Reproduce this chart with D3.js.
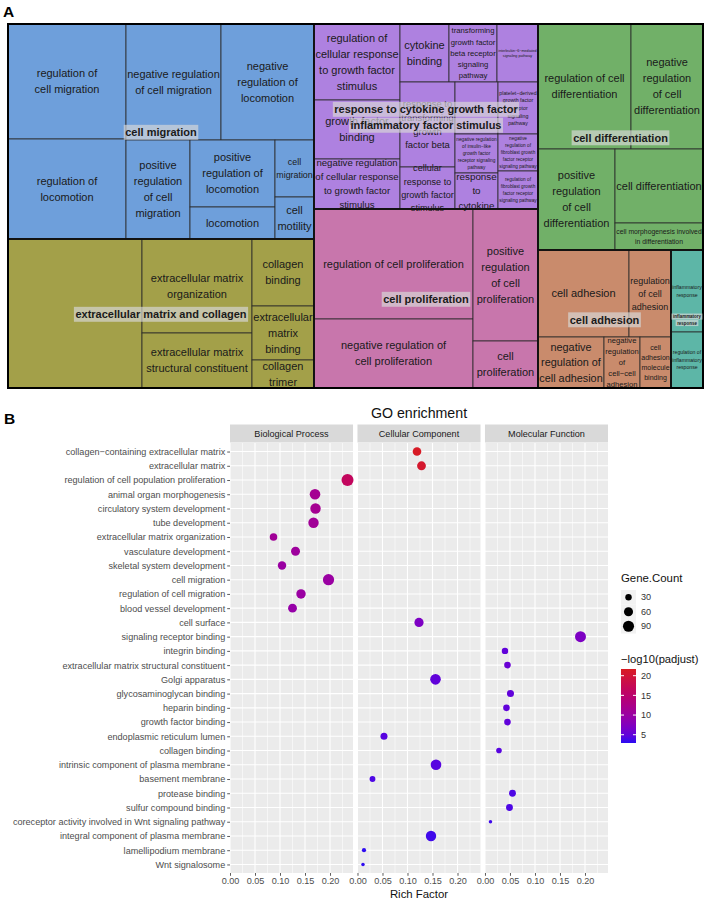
<!DOCTYPE html>
<html>
<head>
<meta charset="utf-8">
<script src="https://cdn.jsdelivr.net/npm/d3@7"></script>
<style>
  body { margin: 0; background: #fff; }
  svg { display: block; font-family: "Liberation Sans", Arial, Helvetica, sans-serif; }
</style>
</head>
<body>
<svg id="fig" width="713" height="912"></svg>
<script>
// ---------- panel A: REVIGO treemap ----------
const groupNames = [
  "cell migration",
  "extracellular matrix and collagen",
  "response to cytokine growth factor\ninflammatory factor stimulus",
  "cell proliferation",
  "cell differentiation",
  "cell adhesion",
  "inflammatory\nresponse"
];
const groupColors = ["#6e9fdb", "#a3a049", "#ae81e0", "#c876ac", "#71b068", "#c98b6c", "#5db6a7"];

const termLabels = [
  "regulation of\ncell migration", "regulation of\nlocomotion", "negative regulation\nof cell migration",
  "negative\nregulation of\nlocomotion", "positive\nregulation\nof cell\nmigration", "positive\nregulation of\nlocomotion",
  "locomotion", "cell\nmigration", "cell\nmotility",
  "", "extracellular matrix\norganization", "extracellular matrix\nstructural constituent",
  "collagen\nbinding", "extracellular\nmatrix\nbinding", "collagen\ntrimer",
  "regulation of\ncellular response\nto growth factor\nstimulus", "growth factor\nbinding",
  "negative regulation\nof cellular response\nto growth factor\nstimulus",
  "cytokine\nbinding", "transforming\ngrowth factor\nbeta receptor\nsignaling\npathway",
  "interleukin−6−mediated\nsignaling pathway",
  "response to\ntransforming\ngrowth\nfactor beta", "cellular\nresponse to\ngrowth factor\nstimulus", "",
  "negative regulation\nof insulin−like\ngrowth factor\nreceptor signaling\npathway", "response\nto\ncytokine",
  "platelet−derived\ngrowth factor\nreceptor\nsignaling\npathway",
  "negative\nregulation of\nfibroblast growth\nfactor receptor\nsignaling pathway",
  "regulation of\nfibroblast growth\nfactor receptor\nsignaling pathway",
  "regulation of cell proliferation", "negative regulation of\ncell proliferation",
  "positive\nregulation\nof cell\nproliferation", "cell\nproliferation",
  "regulation of cell\ndifferentiation", "negative\nregulation\nof cell\ndifferentiation",
  "positive\nregulation\nof cell\ndifferentiation", "cell differentiation",
  "cell morphogenesis involved\nin differentiation",
  "cell adhesion", "regulation\nof cell\nadhesion", "negative\nregulation of\ncell adhesion",
  "negative\nregulation\nof\ncell−cell\nadhesion", "cell\nadhesion\nmolecule\nbinding",
  "inflammatory\nresponse", "regulation of\ninflammatory\nresponse"
];
const termGroup = [
  0, 0, 0, 0, 0, 0, 0, 0, 0,
  1, 1, 1, 1, 1, 1,
  2, 2, 2, 2, 2, 2, 2, 2, 2, 2, 2, 2, 2, 2,
  3, 3, 3, 3,
  4, 4, 4, 4, 4,
  5, 5, 5, 5, 5,
  6, 6
];
const termSize = [
  13570, 11800, 11020, 10788, 6336, 5695, 2720, 2223, 1638,
  19966, 10340, 6050, 4154, 3348, 1736,
  6536, 5074, 4300, 2842, 2784, 2378, 4675, 2310, 2236, 1677, 1548, 2080, 1480, 1520,
  17490, 10971, 8580, 3055,
  11625, 9000, 7777, 6512, 2376,
  7917, 3654, 3366, 1836, 1581,
  2624, 1792
];

// tiling order: "h" = side by side, "v" = stacked; numbers are term indexes
const treeSplits = ["h",
  ["v",
    ["h", ["v", 0, 1], ["v", ["h", 2, 3], ["h", 4, ["v", 5, 6], ["v", 7, 8]]]],
    ["h", 9, ["v", 10, 11], ["v", 12, 13, 14]]],
  ["v",
    ["h", ["v", 15, 16, 17],
      ["v", ["h", 18, 19, 20], ["h", ["v", 21, 22], ["v", 23, 24, 25], ["v", 26, 27, 28]]]],
    ["h", ["v", 29, 30], ["v", 31, 32]]],
  ["v",
    ["v", ["h", 33, 34], ["h", 35, ["v", 36, 37]]],
    ["h", ["v", ["h", 38, 39], ["h", 40, 41, 42]], ["v", 43, 44]]]
];

// ---------- panel B: GO enrichment dot plot ----------
const ontologyPanels = ["Biological Process", "Cellular Component", "Molecular Function"];
const goTerms = [
  "collagen−containing extracellular matrix", "extracellular matrix", "regulation of cell population proliferation",
  "animal organ morphogenesis", "circulatory system development", "tube development",
  "extracellular matrix organization", "vasculature development", "skeletal system development",
  "cell migration", "regulation of cell migration", "blood vessel development", "cell surface",
  "signaling receptor binding", "integrin binding", "extracellular matrix structural constituent",
  "Golgi apparatus", "glycosaminoglycan binding", "heparin binding", "growth factor binding",
  "endoplasmic reticulum lumen", "collagen binding", "intrinsic component of plasma membrane",
  "basement membrane", "protease binding", "sulfur compound binding",
  "coreceptor activity involved in Wnt signaling pathway", "integral component of plasma membrane",
  "lamellipodium membrane", "Wnt signalosome"
];
const goOntology = [
  1, 1, 0, 0, 0, 0, 0, 0, 0, 0, 0, 0, 1, 2, 2, 2, 1, 2, 2, 2, 1, 2, 1, 1, 2, 2, 2, 1, 1, 1
];
const richFactor = [
  0.119, 0.128, 0.235, 0.170, 0.171, 0.167, 0.087, 0.131, 0.104, 0.197, 0.142, 0.125, 0.123,
  0.191, 0.040, 0.045, 0.156, 0.051, 0.043, 0.045, 0.053, 0.028, 0.157, 0.030, 0.055, 0.049,
  0.011, 0.147, 0.013, 0.011
];
const geneCount = [
  54, 57, 105, 82, 80, 79, 42, 59, 52, 92, 65, 57, 62,
  88, 30, 32, 82, 36, 32, 32, 36, 23, 82, 25, 34, 34,
  9, 79, 13, 9
];
const negLogPadj = [
  21.5, 20.8, 16.5, 11.5, 11.5, 11, 11, 10.5, 10, 10, 10, 9.5, 7,
  7, 5, 5.5, 5, 5, 5, 5, 4.5, 4.5, 4.5, 4, 4, 4,
  3.5, 3.5, 3, 3
];
const xTicks = [0, 0.05, 0.10, 0.15, 0.20];
const sizeLegend = [30, 60, 90];
const colorLegend = [5, 10, 15, 20];

const svg = d3.select("#fig");

// ===== A =====
svg.append("text").attr("x", 3).attr("y", 17).attr("font-size", 15.5).attr("font-weight", "bold").text("A");

const TM = { x: 8, y: 24, w: 695, h: 364 };

function buildNode(spec) {
  if (typeof spec === "number") return { term: spec, value: termSize[spec] };
  return { dir: spec[0], children: spec.slice(1).map(buildNode) };
}

const root = d3.hierarchy(buildNode(treeSplits)).sum((d) => d.value || 0);
d3.treemap()
  .size([TM.w, TM.h])
  .tile((node, x0, y0, x1, y1) =>
    (node.data.dir === "h" ? d3.treemapDice : d3.treemapSlice)(node, x0, y0, x1, y1))(root);

const tmG = svg.append("g").attr("transform", `translate(${TM.x},${TM.y})`);
const leaves = root.leaves();

tmG.selectAll(".cell")
  .data(leaves)
  .join("rect")
  .attr("class", "cell")
  .attr("x", (d) => d.x0)
  .attr("y", (d) => d.y0)
  .attr("width", (d) => d.x1 - d.x0)
  .attr("height", (d) => d.y1 - d.y0)
  .attr("fill", (d) => groupColors[termGroup[d.data.term]])
  .attr("stroke", "#2a2a2a")
  .attr("stroke-width", 0.8);

// measuring helper
const measure = svg.append("text").attr("visibility", "hidden");
function textWidth(str, size, weight) {
  measure.attr("font-size", size).attr("font-weight", weight || "normal").text(str);
  return measure.node().getComputedTextLength();
}

function drawLines(g, lines, cx, cy, fs, weight, withBox) {
  const lh = fs * 1.45;
  lines.forEach((line, i) => {
    const y = cy + (i - (lines.length - 1) / 2) * lh;
    if (withBox) {
      const tw = textWidth(line, fs, weight);
      g.append("rect")
        .attr("x", cx - tw / 2 - 1.5)
        .attr("y", y - fs * 0.68)
        .attr("width", tw + 3)
        .attr("height", fs * 1.36)
        .attr("fill", "rgba(215,215,215,0.68)");
    }
    g.append("text")
      .attr("x", cx)
      .attr("y", y)
      .attr("dy", "0.35em")
      .attr("text-anchor", "middle")
      .attr("font-size", fs)
      .attr("font-weight", weight || "normal")
      .attr("fill", "#1a1a1a")
      .text(line);
  });
}

const labelG = tmG.append("g");
leaves.forEach((d) => {
  const label = termLabels[d.data.term];
  if (!label) return;
  const lines = label.split("\n");
  const w = d.x1 - d.x0;
  const maxW = d3.max(lines, (l) => textWidth(l, 11));
  const fs = Math.min(11, (11 * (w - 2.5)) / maxW);
  drawLines(labelG, lines, (d.x0 + d.x1) / 2, (d.y0 + d.y1) / 2, fs);
});

// group outlines and labels
const byGroup = d3.group(leaves, (d) => termGroup[d.data.term]);
const groupBoxes = Array.from(byGroup, ([g, ls]) => ({
  g,
  x0: d3.min(ls, (d) => d.x0),
  y0: d3.min(ls, (d) => d.y0),
  x1: d3.max(ls, (d) => d.x1),
  y1: d3.max(ls, (d) => d.y1)
}));

tmG.selectAll(".grp")
  .data(groupBoxes)
  .join("rect")
  .attr("class", "grp")
  .attr("x", (d) => d.x0)
  .attr("y", (d) => d.y0)
  .attr("width", (d) => d.x1 - d.x0)
  .attr("height", (d) => d.y1 - d.y0)
  .attr("fill", "none")
  .attr("stroke", "#111")
  .attr("stroke-width", 1.6);

tmG.append("rect")
  .attr("width", TM.w)
  .attr("height", TM.h)
  .attr("fill", "none")
  .attr("stroke", "#000")
  .attr("stroke-width", 2);

groupBoxes.forEach((b) => {
  const lines = groupNames[b.g].split("\n");
  const maxW = d3.max(lines, (l) => textWidth(l, 11, "bold"));
  const fs = Math.min(11, (11 * (b.x1 - b.x0 - 4)) / maxW);
  drawLines(tmG, lines, (b.x0 + b.x1) / 2, (b.y0 + b.y1) / 2 + 0.8, fs, "bold", true);
});

// ===== B =====
svg.append("text").attr("x", 4).attr("y", 424).attr("font-size", 15.5).attr("font-weight", "bold").text("B");

const B_TOP = 443, B_BOTTOM = 873;
const AX_FS = 9.1;
const panelX = d3.scaleBand().domain(ontologyPanels).range([230, 608]).paddingInner(0.035);
const rfX = d3.scaleLinear().domain([0, 0.246]).range([0, panelX.bandwidth()]);
const termY = d3.scalePoint().domain(goTerms).range([B_TOP, B_BOTTOM]).padding(0.6);
const rScale = d3.scaleSqrt().domain([0, 100]).range([0, 5.85]);
const colorScale = d3.scaleLinear()
  .domain([2.9, 21.7])
  .range(["#2a0cf2", "#d81b22"])
  .interpolate(d3.interpolateLab)
  .clamp(true);

svg.append("text")
  .attr("x", 419)
  .attr("y", 418)
  .attr("text-anchor", "middle")
  .attr("font-size", 14.2)
  .attr("fill", "#111")
  .text("GO enrichment");

const minorTicks = [0.025, 0.075, 0.125, 0.175, 0.225];
const dots = goTerms.map((t, i) => ({
  term: t, panel: ontologyPanels[goOntology[i]], rf: richFactor[i], n: geneCount[i], p: negLogPadj[i]
}));

ontologyPanels.forEach((name) => {
  const g = svg.append("g").attr("transform", `translate(${panelX(name)},0)`);
  const bw = panelX.bandwidth();

  g.append("rect").attr("y", B_TOP).attr("width", bw).attr("height", B_BOTTOM - B_TOP).attr("fill", "#ebebeb");

  g.selectAll(".minor")
    .data(minorTicks)
    .join("line")
    .attr("x1", (d) => rfX(d))
    .attr("x2", (d) => rfX(d))
    .attr("y1", B_TOP)
    .attr("y2", B_BOTTOM)
    .attr("stroke", "#fff")
    .attr("stroke-width", 0.55);

  g.selectAll(".hgrid")
    .data(goTerms)
    .join("line")
    .attr("x1", 0)
    .attr("x2", bw)
    .attr("y1", (d) => termY(d))
    .attr("y2", (d) => termY(d))
    .attr("stroke", "#fff")
    .attr("stroke-width", 1.1);

  g.selectAll(".vgrid")
    .data(xTicks)
    .join("line")
    .attr("x1", (d) => rfX(d))
    .attr("x2", (d) => rfX(d))
    .attr("y1", B_TOP)
    .attr("y2", B_BOTTOM)
    .attr("stroke", "#fff")
    .attr("stroke-width", 1.1);

  g.append("rect").attr("y", 424.5).attr("width", bw).attr("height", 18).attr("fill", "#d9d9d9");
  g.append("text")
    .attr("x", bw / 2)
    .attr("y", 433.5)
    .attr("dy", "0.35em")
    .attr("text-anchor", "middle")
    .attr("font-size", AX_FS)
    .attr("fill", "#1a1a1a")
    .text(name);

  const ax = g.append("g")
    .attr("transform", `translate(0,${B_BOTTOM})`)
    .call(d3.axisBottom(rfX).tickValues(xTicks).tickFormat(d3.format(".2f")).tickSize(2.8).tickPadding(2));
  ax.select(".domain").remove();
  ax.selectAll("line").attr("stroke", "#333").attr("stroke-width", 0.8);
  ax.selectAll("text").attr("font-size", AX_FS).attr("fill", "#4d4d4d").attr("font-family", null);

  g.selectAll(".dot")
    .data(dots.filter((d) => d.panel === name))
    .join("circle")
    .attr("cx", (d) => rfX(d.rf))
    .attr("cy", (d) => termY(d.term))
    .attr("r", (d) => rScale(d.n))
    .attr("fill", (d) => colorScale(d.p));
});

const yAx = svg.append("g")
  .attr("transform", "translate(230,0)")
  .call(d3.axisLeft(termY).tickSize(2.8).tickPadding(2));
yAx.select(".domain").remove();
yAx.selectAll("line").attr("stroke", "#333").attr("stroke-width", 0.8);
yAx.selectAll("text").attr("font-size", AX_FS).attr("fill", "#4d4d4d").attr("font-family", null);

svg.append("text")
  .attr("x", 419)
  .attr("y", 898)
  .attr("text-anchor", "middle")
  .attr("font-size", 11.4)
  .attr("fill", "#111")
  .text("Rich Factor");

// size legend
const lg = svg.append("g");
lg.append("text").attr("x", 621).attr("y", 582).attr("font-size", 11.4).attr("fill", "#111").text("Gene.Count");
const keyH = 14.5;
sizeLegend.forEach((v, i) => {
  const ky = 590 + i * keyH;
  lg.append("rect").attr("x", 621).attr("y", ky).attr("width", 15).attr("height", keyH).attr("fill", "#f2f2f2");
  lg.append("circle").attr("cx", 628.5).attr("cy", ky + keyH / 2).attr("r", rScale(v)).attr("fill", "#000");
  lg.append("text").attr("x", 641).attr("y", ky + keyH / 2).attr("dy", "0.35em")
    .attr("font-size", AX_FS).attr("fill", "#333").text(v);
});

// colour bar
lg.append("text").attr("x", 621).attr("y", 663).attr("font-size", 11.2).attr("fill", "#111").text("−log10(padjust)");
const cbY = d3.scaleLinear().domain(colorScale.domain()).range([743, 669]);
const grad = svg.append("defs").append("linearGradient")
  .attr("id", "cbar").attr("x1", 0).attr("y1", 1).attr("x2", 0).attr("y2", 0);
d3.range(0, 1.0001, 0.1).forEach((t) => {
  const v = colorScale.domain()[0] + t * (colorScale.domain()[1] - colorScale.domain()[0]);
  grad.append("stop").attr("offset", t).attr("stop-color", colorScale(v));
});
lg.append("rect").attr("x", 621).attr("y", 669).attr("width", 15).attr("height", 74).attr("fill", "url(#cbar)");
colorLegend.forEach((v) => {
  lg.append("line").attr("x1", 621).attr("x2", 624).attr("y1", cbY(v)).attr("y2", cbY(v)).attr("stroke", "#fff");
  lg.append("line").attr("x1", 633).attr("x2", 636).attr("y1", cbY(v)).attr("y2", cbY(v)).attr("stroke", "#fff");
  lg.append("text").attr("x", 641).attr("y", cbY(v)).attr("dy", "0.35em")
    .attr("font-size", AX_FS).attr("fill", "#333").text(v);
});

measure.remove();
</script>
</body>
</html>
